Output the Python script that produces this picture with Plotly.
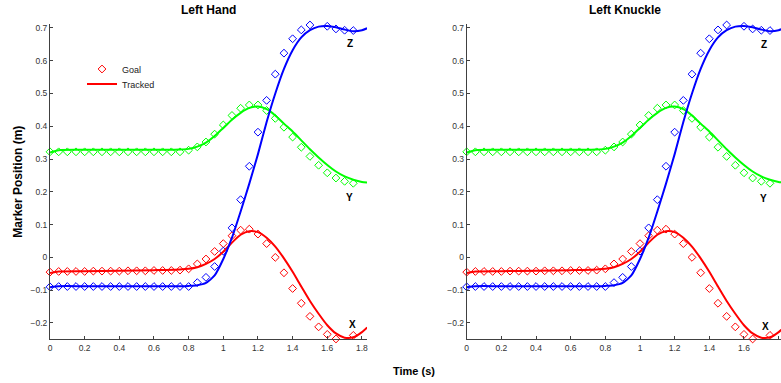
import plotly.graph_objects as go

# ---------------- data ----------------
t_goal = [0.00, 0.05, 0.10, 0.15, 0.20, 0.25, 0.30, 0.35, 0.40, 0.45, 0.50, 0.55,
          0.60, 0.65, 0.70, 0.75, 0.80, 0.85, 0.90, 0.95, 1.00, 1.05, 1.10, 1.15,
          1.20, 1.25, 1.30, 1.35, 1.40, 1.45, 1.50, 1.55, 1.60, 1.65, 1.70, 1.75]

goal_x = [-0.045, -0.043, -0.043, -0.043, -0.043, -0.042, -0.042, -0.042, -0.042,
          -0.041, -0.041, -0.041, -0.040, -0.040, -0.040, -0.039,
          -0.035, -0.020, -0.005, 0.018, 0.042, 0.066, 0.083, 0.086, 0.071, 0.042,
          0.000, -0.047, -0.095, -0.140, -0.180, -0.212, -0.235, -0.249, -0.252, -0.238]
goal_y = [0.322, 0.322, 0.322, 0.322, 0.322, 0.322, 0.322, 0.322, 0.322,
          0.322, 0.322, 0.322, 0.322, 0.322, 0.322, 0.322,
          0.327, 0.337, 0.352, 0.376, 0.404, 0.433, 0.455, 0.465, 0.465, 0.448,
          0.424, 0.397, 0.367, 0.336, 0.308, 0.281, 0.258, 0.242, 0.232, 0.226]
goal_z = [-0.090, -0.089, -0.089, -0.089, -0.089, -0.089, -0.089, -0.089, -0.089,
          -0.089, -0.089, -0.089, -0.089, -0.089, -0.089, -0.089, -0.089,
          -0.077, -0.061, -0.028, 0.019, 0.090, 0.176, 0.278, 0.382, 0.479,
          0.559, 0.623, 0.667, 0.694, 0.709, 0.713, 0.705, 0.697, 0.693, 0.692]

t_track = [0.0, 0.05, 0.2, 0.4, 0.6, 0.75, 0.8, 0.85, 0.9, 0.95, 1.0, 1.05, 1.1, 1.15,
           1.2, 1.25, 1.3, 1.35, 1.4, 1.45, 1.5, 1.55, 1.6, 1.65, 1.7, 1.75, 1.8, 1.83]
track_x = [-0.048, -0.043, -0.042, -0.041, -0.039, -0.037, -0.035, -0.030, -0.020,
           -0.005, 0.017, 0.045, 0.069, 0.080, 0.077, 0.060, 0.033, -0.003, -0.044,
           -0.089, -0.133, -0.172, -0.207, -0.232, -0.245, -0.244, -0.228, -0.214]
track_y = [0.320, 0.327, 0.328, 0.328, 0.328, 0.329, 0.331, 0.338, 0.350, 0.370,
           0.395, 0.420, 0.441, 0.456, 0.460, 0.452, 0.433, 0.408, 0.384, 0.357,
           0.330, 0.305, 0.282, 0.262, 0.247, 0.237, 0.230, 0.228]
track_z = [-0.091, -0.088, -0.088, -0.088, -0.088, -0.088, -0.087, -0.085, -0.078,
           -0.055, -0.005, 0.060, 0.140, 0.225, 0.315, 0.413, 0.500, 0.575, 0.632,
           0.671, 0.693, 0.704, 0.706, 0.702, 0.695, 0.690, 0.693, 0.699]

panel_titles = ["Left Hand", "Left Knuckle"]
x_tickvals = [0, 0.2, 0.4, 0.6, 0.8, 1.0, 1.2, 1.4, 1.6, 1.8]
x_ticktext = ["0", "0.2", "0.4", "0.6", "0.8", "1", "1.2", "1.4", "1.6", "1.8"]
y_tickvals = [-0.2, -0.1, 0, 0.1, 0.2, 0.3, 0.4, 0.5, 0.6, 0.7]
y_ticktext = ["\u22120.2", "\u22120.1", "0", "0.1", "0.2", "0.3", "0.4", "0.5", "0.6", "0.7"]

# ---------------- layout geometry ----------------
W, H = 781, 383
FONT = "Liberation Sans, Arial, Helvetica, sans-serif"
RED, GREEN, BLUE = "#ff0000", "#00ff00", "#0000ff"


def px_x(p):
    return p / W


def px_y(p):
    return 1 - p / H


top_px, bot_px = 24, 339.3
left_dom = [px_x(50), px_x(367)]
right_dom = [px_x(466.7), 1.0]
ppu = 173.3  # pixels per second
left_range = [0, (367 - 50) / ppu]
right_range = [0, (W - 466.7) / ppu]
y_range = [-0.25, 0.712]

fig = go.Figure()

series = [(goal_x, track_x, RED), (goal_y, track_y, GREEN), (goal_z, track_z, BLUE)]
for ax in ["", "2"]:
    for g, tr, c in series:
        fig.add_trace(go.Scatter(
            x=t_goal, y=g, mode="markers", xaxis="x" + ax, yaxis="y" + ax,
            marker=dict(symbol="diamond-open", size=6, color=c, line=dict(width=1, color=c)),
            cliponaxis=False, showlegend=False, hoverinfo="skip"))
    for g, tr, c in series:
        fig.add_trace(go.Scatter(
            x=t_track, y=tr, mode="lines", xaxis="x" + ax, yaxis="y" + ax,
            line=dict(color=c, width=2, shape="spline", smoothing=0.6),
            showlegend=False, hoverinfo="skip"))

# legend entries (two separate legends so the row spacing can match)
fig.add_trace(go.Scatter(x=[None], y=[None], mode="markers", name="Goal", legend="legend",
                         marker=dict(symbol="diamond-open", size=6, color=RED,
                                     line=dict(width=1, color=RED))))
fig.add_trace(go.Scatter(x=[None], y=[None], mode="lines", name="Tracked", legend="legend2",
                         line=dict(color=RED, width=2)))

axis_common = dict(showline=True, linecolor="#404040", linewidth=1, ticks="inside",
                   ticklen=3, tickwidth=1, tickcolor="#404040", showgrid=False,
                   zeroline=False, tickfont=dict(family=FONT, size=8.5, color="#333333"),
                   automargin=False)

legend_common = dict(xanchor="left", yanchor="middle", bgcolor="rgba(0,0,0,0)", borderwidth=0,
                     itemwidth=30, font=dict(family=FONT, size=9, color="#222222"))

fig.update_layout(
    width=W, height=H,
    margin=dict(l=0, r=0, t=0, b=0),
    paper_bgcolor="white", plot_bgcolor="white",
    font=dict(family=FONT, color="#000000"),
    template="none",
    xaxis=dict(domain=left_dom, range=left_range, anchor="y",
               tickvals=x_tickvals, ticktext=x_ticktext, **axis_common),
    yaxis=dict(domain=[px_y(bot_px), px_y(top_px)], range=y_range, anchor="x",
               tickvals=y_tickvals, ticktext=y_ticktext, **axis_common),
    xaxis2=dict(domain=right_dom, range=right_range, anchor="y2",
                tickvals=x_tickvals, ticktext=x_ticktext, **axis_common),
    yaxis2=dict(domain=[px_y(bot_px), px_y(top_px)], range=y_range, anchor="x2",
                tickvals=y_tickvals, ticktext=y_ticktext, **axis_common),
    legend=dict(x=px_x(82), y=px_y(69), **legend_common),
    legend2=dict(x=px_x(82), y=px_y(84), **legend_common),
    showlegend=True,
)

ann = []
ann.append(dict(text="<b>%s</b>" % panel_titles[0], x=px_x(208.5), y=px_y(10), xref="paper", yref="paper",
                showarrow=False, font=dict(size=12, family=FONT), xanchor="center", yanchor="middle"))
ann.append(dict(text="<b>%s</b>" % panel_titles[1], x=px_x(625), y=px_y(10), xref="paper", yref="paper",
                showarrow=False, font=dict(size=12, family=FONT), xanchor="center", yanchor="middle"))
ann.append(dict(text="<b>Marker Position (m)</b>", x=px_x(18), y=px_y(181.7), xref="paper", yref="paper",
                textangle=-90, showarrow=False, font=dict(size=12, family=FONT),
                xanchor="center", yanchor="middle"))
ann.append(dict(text="<b>Time (s)</b>", x=px_x(414), y=px_y(370.7), xref="paper", yref="paper",
                showarrow=False, font=dict(size=11, family=FONT), xanchor="center", yanchor="middle"))

labels_left = [("Z", 1.731, 0.654), ("Y", 1.731, 0.183), ("X", 1.743, -0.206)]
labels_right = [("Z", 1.716, 0.648), ("Y", 1.71, 0.180), ("X", 1.727, -0.212)]
for lab, xv, yv in labels_left:
    ann.append(dict(text="<b>%s</b>" % lab, x=xv, y=yv, xref="x", yref="y", showarrow=False,
                    font=dict(size=10, family=FONT), xanchor="center", yanchor="middle"))
for lab, xv, yv in labels_right:
    ann.append(dict(text="<b>%s</b>" % lab, x=xv, y=yv, xref="x2", yref="y2", showarrow=False,
                    font=dict(size=10, family=FONT), xanchor="center", yanchor="middle"))
fig.update_layout(annotations=ann)

# remove the browser's default 8px page margin so the figure fills the window exactly
fig.write_html("out.html",
               config={"displayModeBar": False, "staticPlot": True},
               post_script="document.body.style.margin='0px';document.body.style.overflow='hidden';")
